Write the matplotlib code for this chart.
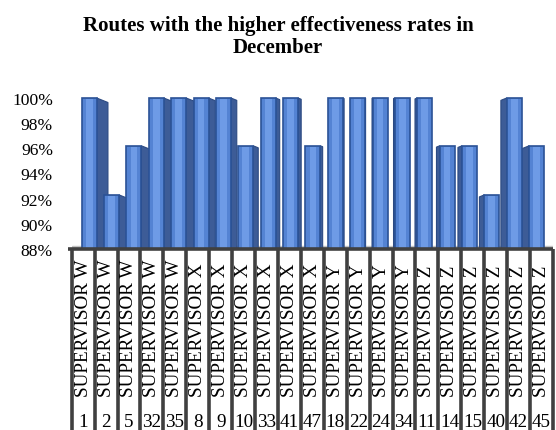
import matplotlib
matplotlib.use("Agg")
import matplotlib.pyplot as plt
from matplotlib.patches import Polygon
from matplotlib.ticker import FuncFormatter

plt.rcParams["font.family"] = ["Liberation Serif", "DejaVu Serif"]

supervisors = ["W"] * 5 + ["X"] * 6 + ["Y"] * 4 + ["Z"] * 6
routes = ["1", "2", "5", "32", "35", "8", "9", "10", "33", "41", "47",
          "18", "22", "24", "34", "11", "14", "15", "40", "42", "45"]
rates = [100, 92.3, 96.2, 100, 100, 100, 100, 96.2, 100, 100, 96.2,
         100, 100, 100, 100, 100, 96.2, 96.2, 92.3, 100, 96.2]
y_ticks = [88, 90, 92, 94, 96, 98, 100]

W, H = 556, 431
fig = plt.figure(figsize=(W / 100, H / 100), dpi=100)

# bar area (pixel geometry of the reference)
left_px, right_px, top_px, base_px = 71.7, 553, 88, 250
ax = fig.add_axes([left_px / W, (H - base_px) / H,
                   (right_px - left_px) / W, (base_px - top_px) / H])
px_per_pct = (base_px - 99) / 12.0
ax.set_ylim(88, 88 + (base_px - top_px) / px_per_pct)
slot_px = 22.37
ax.set_xlim(-(89.2 - left_px) / slot_px, (right_px - 89.2) / slot_px)

bar_w = 0.67
xs = list(range(len(rates)))

# dark side faces for the 3D look
for i, v in zip(xs, rates):
    side_px = 0.9 * (12.5 - i)
    dx = side_px / slot_px
    dy = abs(side_px) * 0.4 / px_per_pct
    xe = i + bar_w / 2 if dx > 0 else i - bar_w / 2
    ax.add_patch(Polygon([(xe, 80), (xe, v), (xe + dx, v - dy), (xe + dx, 80)],
                         closed=True, facecolor="#3d5c97", edgecolor="#2c4a82",
                         lw=0.8, zorder=1))

ax.axhspan(88, 88.25, color="#c4c4c4", zorder=0.5)
ax.bar(xs, rates, width=bar_w, bottom=0, color="#5483d3",
       edgecolor="#2b5296", linewidth=1.2, zorder=2)
ax.bar(xs, [r - 0.1 for r in rates], width=bar_w * 0.45, color="#6e9be6",
       linewidth=0, zorder=3)

for s in ax.spines.values():
    s.set_visible(False)
ax.set_yticks(y_ticks)
ax.yaxis.set_major_formatter(FuncFormatter(lambda v, p: f"{v:.0f}%"))
ax.tick_params(axis="y", length=0, pad=13.5, labelsize=12.6)
ax.set_xticks([])

# two-level category table
tab = fig.add_axes([left_px / W, 0, (right_px - left_px) / W, (H - base_px) / H])
tab.set_xlim(0, len(routes))
tab.set_ylim(0, 1)
tab.axis("off")
tab.vlines(range(len(routes) + 1), 0, 1, color="#404040", lw=2.6, clip_on=False)
tab.hlines(1, -0.15, len(routes), color="#404040", lw=2.6, clip_on=False)
for i, (s, r) in enumerate(zip(supervisors, routes)):
    tab.text(i + 0.5, (H - 397) / (H - base_px), f"SUPERVISOR {s}", rotation=90,
             ha="center", va="bottom", fontsize=13.8)
    tab.text(i + 0.5, (H - 423) / (H - base_px), r, ha="center", va="center",
             fontsize=13.8)

fig.text(0.5, 1 - 37 / H, "Routes with the higher effectiveness rates in\nDecember",
         ha="center", va="center", fontsize=15, fontweight="bold", linespacing=1.15)

fig.savefig("out.png", dpi=100)
